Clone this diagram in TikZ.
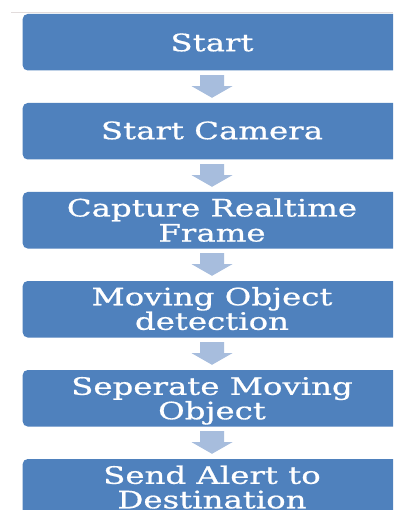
\documentclass[tikz,border=0pt]{standalone}
\usepackage{fontspec}
\newfontfamily\boxfont[FakeBold=0.6]{DejaVu Serif}
\usetikzlibrary{calc}
\definecolor{boxblue}{HTML}{4F81BD}
\definecolor{arrblue}{HTML}{A7BDDD}
\definecolor{rulegray}{HTML}{E2DCDC}
\newcommand\wide[1]{\scalebox{1.35}[1]{#1}}
\newcommand\fatarrow[2]{%
  \fill[arr] let \p1=(#1.south), \p2=(#2.north) in
    (\x1-12pt,\y1-4.5pt) -- (\x1+12pt,\y1-4.5pt) -- (\x1+12pt,\y2+16.7pt) --
    (\x1+20.5pt,\y2+16.7pt) -- (\x1,\y2+5pt) -- (\x1-20.5pt,\y2+16.7pt) --
    (\x1-12pt,\y2+16.7pt) -- cycle;}
\begin{document}
\begin{tikzpicture}[x=1pt,y=-1pt,
  box/.style={fill=boxblue, rounded corners=5pt, minimum width=378.6pt,
    minimum height=56.5pt, inner sep=0pt},
  txt/.style={text=white, font=\boxfont\fontsize{24}{24}\selectfont,
    inner sep=0pt, anchor=base},
  arr/.style={fill=arrblue}]
\useasboundingbox (0,0) rectangle (393,510);
\clip (0,0) rectangle (393,510);
\fill[white] (0,0) rectangle (393,510);
\coordinate (rl) at (11,12.5);
\coordinate (rr) at (393,12.5);
\draw[rulegray, line width=1pt] (rl) -- (rr);

\node[box] (b1) at (212,42.25) {};
\node[box] (b2) at (212,131.25) {};
\node[box] (b3) at (212,220.25) {};
\node[box] (b4) at (212,309.25) {};
\node[box] (b5) at (212,398.25) {};
\node[box] (b6) at (212,487.25) {};

\node[txt] (t1) at (212,51.2) {\wide{Start}};
\node[txt] (t2) at (212,139.2) {\wide{Start Camera}};
\node[txt] (t3a) at (212,216.5) {\wide{Capture Realtime}};
\node[txt] (t3b) at (212,241.5) {\wide{Frame}};
\node[txt] (t4a) at (212,305.3) {\wide{Moving Object}};
\node[txt] (t4b) at (212,329.8) {\wide{detection}};
\node[txt] (t5a) at (212,394.8) {\wide{Seperate Moving}};
\node[txt] (t5b) at (212,419.3) {\wide{Object}};
\node[txt] (t6a) at (212,483.8) {\wide{Send Alert to}};
\node[txt] (t6b) at (212,508.3) {\wide{Destination}};

\fatarrow{b1}{b2}
\fatarrow{b2}{b3}
\fatarrow{b3}{b4}
\fatarrow{b4}{b5}
\fatarrow{b5}{b6}
\end{tikzpicture}
\end{document}
